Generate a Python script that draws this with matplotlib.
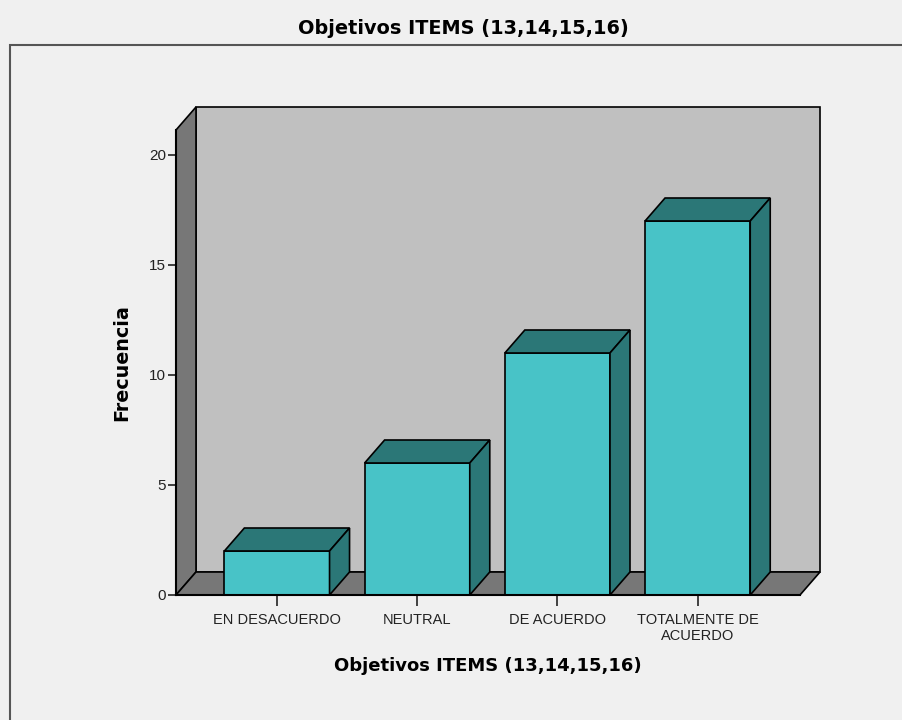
import matplotlib.pyplot as plt
from matplotlib.patches import Polygon, Rectangle

categories = ["EN DESACUERDO", "NEUTRAL", "DE ACUERDO", "TOTALMENTE DE\nACUERDO"]
counts = [2, 6, 11, 17]
yticks = [0, 5, 10, 15, 20]
title = "Objetivos ITEMS (13,14,15,16)"

plt.rcParams['font.family'] = ['Liberation Sans', 'DejaVu Sans']

fig = plt.figure(figsize=(9.03, 7.2), dpi=100)
fig.patch.set_facecolor("#f0f0f0")

# outer frame of the SPSS chart area
fig.patches.append(Rectangle((10 / 903, -0.1), 1.2, (720 - 45) / 720 + 0.1,
                             transform=fig.transFigure, fill=False,
                             edgecolor="#555555", linewidth=1.5))

ax_px = (176, 595, 624, 465)  # left, bottom, width, height in pixels
ax = fig.add_axes([ax_px[0] / 903, (720 - ax_px[1]) / 720, ax_px[2] / 903, ax_px[3] / 720])
ax.set_facecolor("none")

xmin, xmax = -0.72, 3.73
ymin, ymax = 0, 465 / 22
ax.set_xlim(xmin, xmax)
ax.set_ylim(ymin, ymax)

# depth of the 3D effect, in data units
dx = 20 / (ax_px[2] / (xmax - xmin))
dy = 23 / (ax_px[3] / (ymax - ymin))

edge = dict(edgecolor="black", linewidth=1.2, clip_on=False)

# back wall, left wall, floor
ax.add_patch(Rectangle((xmin + dx, dy), xmax - xmin, ymax, facecolor="#c0c0c0", **edge))
ax.add_patch(Polygon([(xmin, 0), (xmin + dx, dy), (xmin + dx, ymax + dy), (xmin, ymax)],
                     facecolor="#777777", **edge))
ax.add_patch(Polygon([(xmin, 0), (xmax, 0), (xmax + dx, dy), (xmin + dx, dy)],
                     facecolor="#777777", **edge))

front = "#48c3c7"
dark = "#2b7777"
w = 0.75
for i, v in enumerate(counts):
    x0, x1 = i - w / 2, i + w / 2
    ax.add_patch(Rectangle((x0, 0), w, v, facecolor=front, zorder=3, **edge))
    ax.add_patch(Polygon([(x0, v), (x1, v), (x1 + dx, v + dy), (x0 + dx, v + dy)],
                         facecolor=dark, zorder=3, **edge))
    ax.add_patch(Polygon([(x1, 0), (x1 + dx, dy), (x1 + dx, v + dy), (x1, v)],
                         facecolor=dark, zorder=3, **edge))

for s in ["top", "right"]:
    ax.spines[s].set_visible(False)
for s in ["left", "bottom"]:
    ax.spines[s].set_linewidth(1.5)
    ax.spines[s].set_zorder(4)

ax.set_yticks(yticks)
ax.set_xticks(range(len(categories)))
ax.set_xticklabels(categories, linespacing=1.15)
ax.tick_params(axis="y", length=6, width=1.2, labelsize=11, colors="#222222", pad=1)
ax.tick_params(axis="x", length=8, width=1.2, labelsize=10.5, colors="#222222", pad=5)

bold = dict(family="DejaVu Sans", fontweight="bold")
ax.set_xlabel(title, fontsize=13, labelpad=10, **bold)
fig.text(463 / 903, 1 - 28 / 720, title, ha="center", va="center", fontsize=13.9, **bold)
fig.text(122 / 903, 1 - 363 / 720, "Frecuencia", ha="center", va="center",
         rotation=90, fontsize=13.8, **bold)

fig.savefig("out.png", dpi=100, facecolor=fig.get_facecolor())
